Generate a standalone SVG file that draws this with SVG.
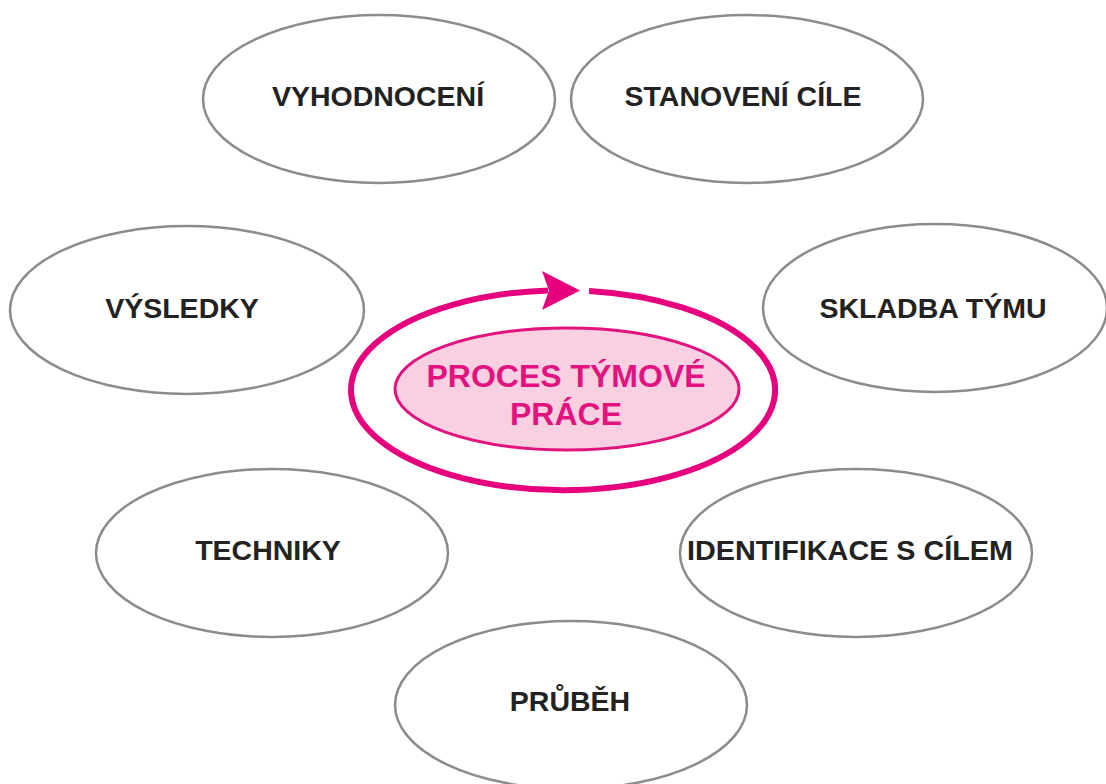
<svg xmlns="http://www.w3.org/2000/svg" width="1106" height="784" viewBox="0 0 1106 784">
<style>
.node{fill:#ffffff;stroke:#8c8c8c;stroke-width:2.5}
.lbl{font-family:"Liberation Sans",Arial,sans-serif;font-weight:bold;font-size:28.5px;fill:#222222;text-anchor:middle}
.center{fill:#f8d0e2;stroke:#e2127f;stroke-width:3}
.clbl{font-family:"Liberation Sans",Arial,sans-serif;font-weight:bold;font-size:32px;fill:#e2127f;text-anchor:middle}
.cycle{fill:none;stroke:#e6007e;stroke-width:6}
</style>
<rect width="1106" height="784" fill="#ffffff"/>
<g id="connectors">
<path class="cycle" d="M 589 290.9 A 212 100 0 1 1 548 290.4"/>
<polygon points="580,290.5 542,271 549,290.5 542,310" fill="#e6007e"/>
</g>
<g id="n-vyhodnoceni"><ellipse class="node" cx="379" cy="99" rx="176" ry="84"/><text class="lbl" x="378" y="106">VYHODNOCENÍ</text></g>
<g id="n-stanoveni"><ellipse class="node" cx="747" cy="99" rx="176" ry="84"/><text class="lbl" x="743" y="106">STANOVENÍ CÍLE</text></g>
<g id="n-vysledky"><ellipse class="node" cx="187" cy="310" rx="177" ry="84"/><text class="lbl" x="182" y="318">VÝSLEDKY</text></g>
<g id="n-skladba"><ellipse class="node" cx="935" cy="308" rx="172" ry="84"/><text class="lbl" x="933" y="318">SKLADBA TÝMU</text></g>
<g id="n-techniky"><ellipse class="node" cx="272" cy="553" rx="176" ry="84"/><text class="lbl" x="268" y="560">TECHNIKY</text></g>
<g id="n-identifikace"><ellipse class="node" cx="856" cy="553" rx="176" ry="84"/><text class="lbl" x="850" y="560" textLength="326" lengthAdjust="spacingAndGlyphs">IDENTIFIKACE S CÍLEM</text></g>
<g id="n-prubeh"><ellipse class="node" cx="571" cy="705" rx="176" ry="84"/><text class="lbl" x="570" y="711">PRŮBĚH</text></g>
<g id="n-center"><ellipse class="center" cx="567" cy="389" rx="172" ry="61"/><text class="clbl" x="566" y="387">PROCES TÝMOVÉ</text><text class="clbl" x="566" y="425">PRÁCE</text></g>
</svg>
